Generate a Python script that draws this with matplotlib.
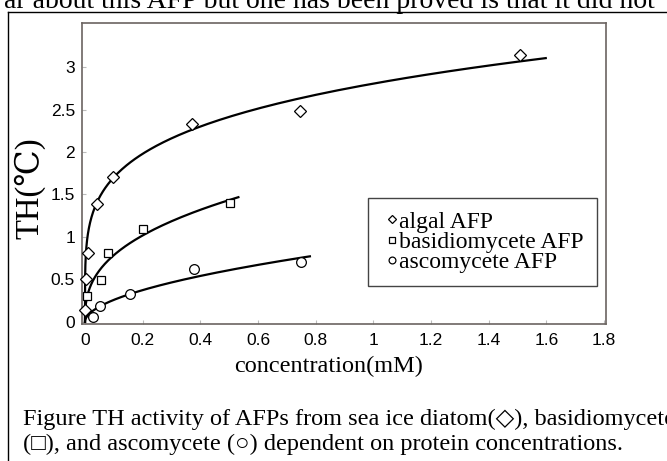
import numpy as np
import matplotlib
matplotlib.use("Agg")
import matplotlib.pyplot as plt
from matplotlib.lines import Line2D

# ---- data ----
algal_x = [0.0, 0.004, 0.011, 0.04, 0.097, 0.37, 0.745, 1.51]
algal_y = [0.14, 0.50, 0.81, 1.39, 1.71, 2.33, 2.48, 3.14]
basid_x = [0.006, 0.054, 0.08, 0.202, 0.503]
basid_y = [0.30, 0.49, 0.81, 1.09, 1.40]
ascom_x = [0.029, 0.052, 0.156, 0.378, 0.749]
ascom_y = [0.05, 0.18, 0.33, 0.62, 0.70]
curve_end = [1.598, 0.532, 0.78]   # x extent of each fitted trend line
fit_min_x = 0.02                   # trend lines fitted to points above this

labels = ["algal AFP", "basidiomycete AFP", "ascomycete AFP"]
xticks = [0, 0.2, 0.4, 0.6, 0.8, 1, 1.2, 1.4, 1.6, 1.8]
yticks = [0, 0.5, 1, 1.5, 2, 2.5, 3]

W, H = 667, 461
fig = plt.figure(figsize=(W / 100, H / 100), dpi=100)
fig.patch.set_facecolor("white")


def fx(px):
    return px / W


def fy(py):
    return 1 - py / H


serif = ["Liberation Serif", "DejaVu Serif"]
sans = ["Liberation Sans", "DejaVu Sans"]

ax = fig.add_axes([fx(82), fy(324), fx(606) - fx(82), fy(23) - fy(324)])
ax.set_xlim(-0.0104, 1.807)
ax.set_ylim(-0.027, 3.52)

spine_c = "#6b6461"
for s in ax.spines.values():
    s.set_color(spine_c)
    s.set_linewidth(1.2)

ax.set_xticks(xticks)
ax.set_yticks(yticks)
ax.set_xticklabels([f"{t:g}" for t in xticks], family=sans, fontsize=12.5)
ax.set_yticklabels([f"{t:g}" for t in yticks], family=sans, fontsize=12.5)
ax.tick_params(direction="in", length=3, width=0.8, color="#bbbbbb")
ax.tick_params(axis="x", pad=6.5)
ax.tick_params(axis="y", pad=5)


def power_fit(x, y):
    x = np.asarray(x, float)
    y = np.asarray(y, float)
    keep = x > fit_min_x
    x, y = x[keep], y[keep]
    best = None
    for b in np.linspace(0.05, 1.0, 951):
        xb = x ** b
        a = (xb @ y) / (xb @ xb)
        sse = np.sum((a * xb - y) ** 2)
        if best is None or sse < best[0]:
            best = (sse, a, b)
    return best[1], best[2]


series = [
    (algal_x, algal_y, "D", 6.0),
    (basid_x, basid_y, "s", 5.8),
    (ascom_x, ascom_y, "o", 7.0),
]
handles = []
for (x, y, m, ms), end, lab in zip(series, curve_end, labels):
    a, b = power_fit(x, y)
    xs = np.concatenate([[0.0], np.geomspace(1e-5, end, 400)])
    ax.plot(xs, a * xs ** b, color="black", lw=1.6, zorder=2)
    h, = ax.plot(x, y, linestyle="none", marker=m, ms=ms, mfc="white",
                 mec="black", mew=0.9, zorder=3, clip_on=False, label=lab)
    handles.append(h)

leg = ax.legend(handles=handles, loc="upper left",
                bbox_to_anchor=((368 - 82) / 524, (324 - 198) / 301),
                prop={"family": serif, "size": 17}, frameon=True,
                fancybox=False, edgecolor="#444444", framealpha=1,
                markerscale=0.7, handlelength=0.93, handletextpad=-0.15,
                labelspacing=-0.05, borderpad=0.55, borderaxespad=0)
leg.get_frame().set_linewidth(1.0)

# axis titles
fig.text(fx(329), fy(372), "concentration(mM)", family=serif, fontsize=17.5,
         ha="center", va="baseline")
fig.text(fx(30), fy(188), "TH(℃)", family=serif, fontsize=23.5,
         rotation=90, ha="center", va="center")

# surrounding page elements
fig.text(fx(655), fy(8), "ar about this AFP but one has been proved is that it did not",
         family=serif, fontsize=20, ha="right", va="baseline")
fig.text(fx(23), fy(425),
         "Figure TH activity of AFPs from sea ice diatom(◇), basidiomycete",
         family=serif, fontsize=17.5, ha="left", va="baseline")
fig.text(fx(23), fy(450),
         "(□), and ascomycete (○) dependent on protein concentrations.",
         family=serif, fontsize=17.5, ha="left", va="baseline")

fig.add_artist(Line2D([fx(8), fx(8)], [fy(12), 0], color="black", lw=1.0))
fig.add_artist(Line2D([fx(8), 1], [fy(12), fy(12)], color="black", lw=1.0))

fig.savefig("out.png", dpi=100)
